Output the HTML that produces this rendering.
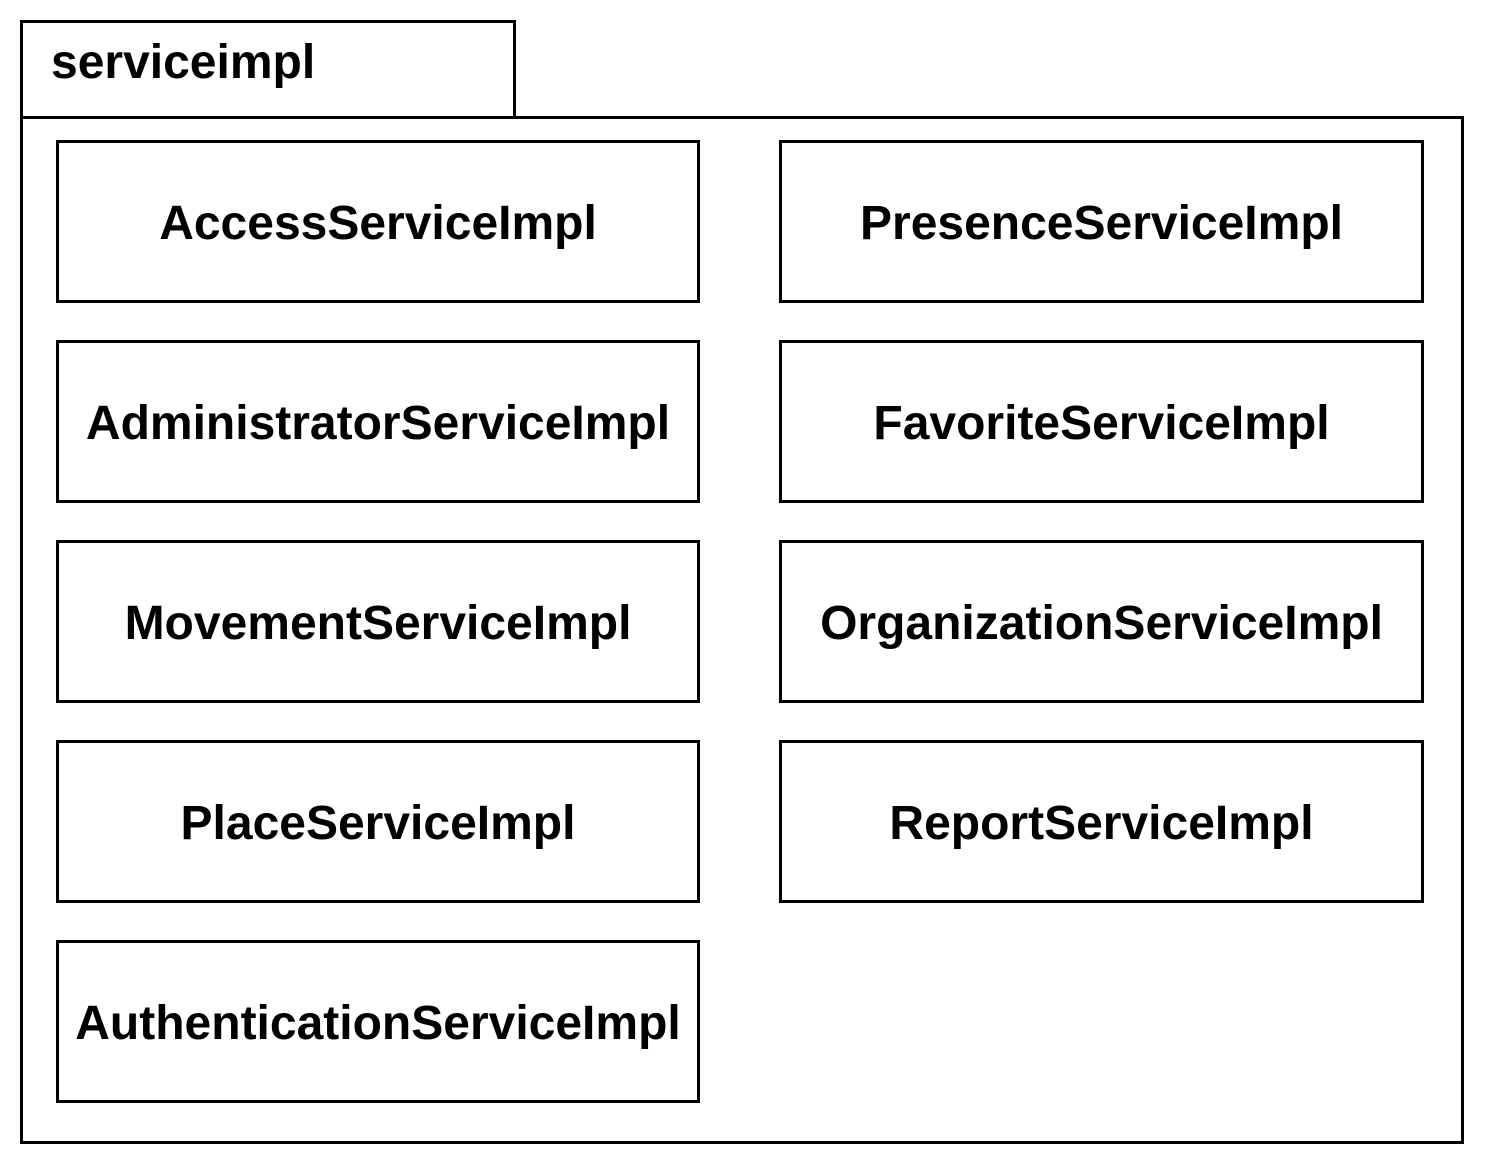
<!DOCTYPE html>
<html><head><meta charset="utf-8"><style>
html,body{margin:0;padding:0;background:#fff;}
body{width:1488px;height:1164px;position:relative;overflow:hidden;font-family:"Liberation Sans",Arial,sans-serif;font-weight:bold;}
.b{position:absolute;border:3px solid #000;box-sizing:border-box;background:#fff;}
.c{display:flex;align-items:center;justify-content:center;font-size:48px;color:#000;padding-top:4px;}
</style></head><body>
<div class="b" style="left:20px;top:116px;width:1444px;height:1028px;"></div>
<div class="b" style="left:20px;top:20px;width:496px;height:99px;font-size:48px;line-height:48px;padding:16px 0 0 28px;">serviceimpl</div>
<div class="b c" style="left:56px;top:140px;width:644px;height:163px;">AccessServiceImpl</div>
<div class="b c" style="left:56px;top:340px;width:644px;height:163px;">AdministratorServiceImpl</div>
<div class="b c" style="left:56px;top:540px;width:644px;height:163px;">MovementServiceImpl</div>
<div class="b c" style="left:56px;top:740px;width:644px;height:163px;">PlaceServiceImpl</div>
<div class="b c" style="left:56px;top:940px;width:644px;height:163px;">AuthenticationServiceImpl</div>
<div class="b c" style="left:779px;top:140px;width:645px;height:163px;">PresenceServiceImpl</div>
<div class="b c" style="left:779px;top:340px;width:645px;height:163px;">FavoriteServiceImpl</div>
<div class="b c" style="left:779px;top:540px;width:645px;height:163px;">OrganizationServiceImpl</div>
<div class="b c" style="left:779px;top:740px;width:645px;height:163px;">ReportServiceImpl</div>
</body></html>
